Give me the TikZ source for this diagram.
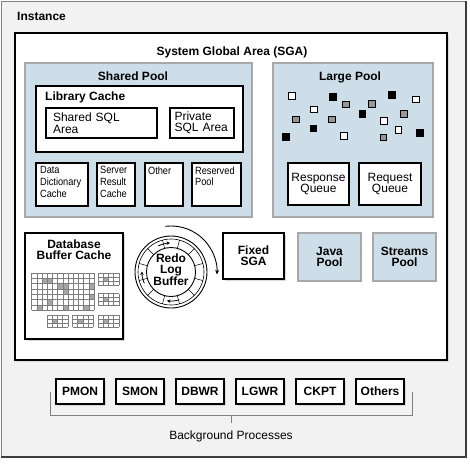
\documentclass[tikz,border=0pt]{standalone}
\usepackage{fontspec}
\setmainfont{Liberation Sans}
\newfontfamily\narrowfont[FakeStretch=0.88]{Liberation Sans}
\usetikzlibrary{positioning,shadows,arrows.meta}

\definecolor{instfill}{RGB}{242,242,242}
\definecolor{instline}{RGB}{60,60,60}
\definecolor{poolblue}{RGB}{206,222,232}
\definecolor{poolgray}{RGB}{168,168,168}
\definecolor{gridgray}{RGB}{125,125,125}
\definecolor{cellgray}{RGB}{165,165,165}
\definecolor{dotgray}{RGB}{150,150,150}

% one grid block of the buffer cache: x0, y0, cols, rows, cell width, cell height
\newcommand\cachegrid[6]{%
  \foreach \i in {0,...,#3} \draw[gridline] ({#1+\i*#5},#2) -- ++(0,{#4*#6});
  \foreach \j in {0,...,#4} \draw[gridline] (#1,{#2+\j*#6}) -- ++({#3*#5},0);
}

\tikzset{
  box/.style={draw=black, line width=1.3pt, fill=white, inner sep=0pt,
    drop shadow={shadow xshift=2pt, shadow yshift=-2pt, fill=black!15, opacity=1}},
  pool/.style={draw=poolgray, line width=2.4pt, fill=poolblue, inner sep=0pt},
  small/.style={draw=black, line width=1.2pt, fill=white, inner sep=0pt},
  bold/.style={font=\bfseries\fontsize{12}{11}\selectfont, align=center, inner sep=0pt},
  plain/.style={font=\fontsize{12}{11.5}\selectfont, inner sep=0pt},
  narrow/.style={font=\narrowfont\fontsize{10.5}{11.7}\selectfont, align=left, inner sep=0pt},
  gridline/.style={gridgray, line width=0.5pt},
  dot/.style={draw=black, line width=0.6pt},
  flow/.style={line width=0.8pt, -{Stealth[length=3.5pt,width=3.5pt]}},
}

\begin{document}
\begin{tikzpicture}[x=1pt,y=-1pt]
\useasboundingbox (0,0) rectangle (470,464);

% instance
\node[draw=gray, line width=0.8pt, fill=instfill, minimum width=465, minimum height=456, inner sep=0pt] (inst) at (233.5,229) {};
\draw[instline, line width=2pt] (inst.north east) -- (inst.south east) -- (inst.south west);
\node[bold, anchor=base west] (instlbl) at (17,20.7) {Instance};

% system global area
\node[box, minimum width=432, minimum height=327] (sga) at (231,196.5) {};
\node[bold, anchor=base] (sgalbl) at (232,55) {System Global Area (SGA)};

% shared pool
\node[pool, minimum width=227, minimum height=154] (shpool) at (138.5,140) {};
\node[bold, anchor=base] (shpoollbl) at (133,80) {Shared Pool};
\node[draw=black, line width=1.2pt, fill=white, minimum width=207, minimum height=66] (libc) at (139.5,119) {};
\node[bold, anchor=base west] (libclbl) at (45,100.7) {Library Cache};
\node[small, plain, minimum width=111, minimum height=30, text width=97, align=left] (sqlarea) at (101.5,123) {Shared SQL\\Area};
\node[small, plain, minimum width=64, minimum height=30, text width=55, align=left] (privsql) at (202,123) {Private\\SQL Area};

\begin{scope}[every node/.style={small, minimum height=43}]
  \node[minimum width=52] (ddc)   at (62,184.5)   {};
  \node[minimum width=38] (src)   at (116,184.5)  {};
  \node[minimum width=38] (other) at (164,184.5)  {};
  \node[minimum width=49] (rsv)   at (216.5,184.5){};
\end{scope}
\node[narrow, below right=4pt and 4.5pt of ddc.north west] (ddctxt)   {Data\\Dictionary\\Cache};
\node[narrow, below right=4pt and 3.5pt of src.north west] (srctxt)   {Server\\Result\\Cache};
\node[narrow, below right=4pt and 3.5pt of other.north west] (othertxt) {Other};
\node[narrow, below right=4pt and 3.5pt of rsv.north west] (rsvtxt)   {Reserved\\Pool};

% large pool
\node[pool, minimum width=160, minimum height=154] (lpool) at (353,140) {};
\node[bold, anchor=base] (lpoollbl) at (350,80) {Large Pool};
\foreach \x/\y/\c in {291.7/96/white, 332.7/96.7/black, 346/104.3/dotgray, 314/109.3/white,
    295.7/119.3/dotgray, 332/119.3/dotgray, 313.3/128.3/black, 285.7/136.7/black,
    344/136/white, 371.7/103.7/dotgray, 362.3/114/black, 391.7/94.7/black,
    415.7/99.3/white, 403.7/114/dotgray, 384/120.7/white, 398.3/130/white,
    383.3/137.3/dotgray, 420/132.7/black}
  \draw[dot, fill=\c] (\x-3.3,\y-3.3) rectangle ++(6.6,6.6);
\node[small, plain, align=center, minimum width=61, minimum height=42] (respq) at (318.5,184) {Response\\Queue};
\node[small, plain, align=center, minimum width=62, minimum height=42] (reqq) at (390,184) {Request\\Queue};

% database buffer cache
\node[box, minimum width=98, minimum height=106] (dbbc) at (74,286) {};
\node[bold, anchor=north] (dbbclbl) at (74,239.5) {Database\\Buffer Cache};
\foreach \c/\r in {2/1, 3/1, 5/2, 6/2, 6/3, 11/2, 11/4, 3/5, 1/6, 6/6, 10/6}
  \fill[cellgray] ({31.7+\c*5.2},{273+\r*5.3}) rectangle ++(5.2,5.3);
\foreach \x/\y in {98/273, 98/293.5, 47/315, 72.5/315, 98/315}
  \fill[cellgray] ({\x+5.2},{\y+4}) rectangle ++(5.2,4);
\cachegrid{31.7}{273}{12}{7}{5.2}{5.3}
\cachegrid{98}{273}{4}{3}{5.2}{4}
\cachegrid{98}{293.5}{4}{3}{5.2}{4}
\cachegrid{47}{315}{4}{3}{5.2}{4}
\cachegrid{72.5}{315}{4}{3}{5.2}{4}
\cachegrid{98}{315}{4}{3}{5.2}{4}

% redo log buffer
\node[draw=black, line width=0.9pt, circle, minimum size=72, inner sep=0pt] (redo) at (171,272) {};
\node[bold] (redolbl) at (171,269.5) {Redo\\Log\\Buffer};
\begin{scope}[shift={(redo.center)}]
  \draw[line width=0.6pt] (0,0) circle[radius=33];
  \draw[line width=0.9pt] (0,0) circle[radius=24.5];
  \foreach \a in {15,45,...,345} \draw[line width=0.5pt] (\a:24.5) -- (\a:33);
  \draw[flow] (-116:29) arc[start angle=-116, end angle=-92, radius=29];
  \draw[flow] (157:29) arc[start angle=157, end angle=181, radius=29];
  \draw[flow] (74:29) arc[start angle=74, end angle=98, radius=29];
  \draw[line width=0.9pt, -{Stealth[length=4.5pt,width=4pt]}] (-97:46) arc[start angle=-97, end angle=3, radius=46];
\end{scope}

% fixed sga, java pool, streams pool
\node[box, bold, minimum width=61, minimum height=46] (fixed) at (253.5,256) {Fixed\\SGA};
\node[pool, bold, minimum width=63, minimum height=48] (java) at (329.5,257) {Java\\Pool};
\node[pool, bold, minimum width=63, minimum height=48] (streams) at (404.5,257) {Streams\\Pool};

% background processes
\foreach \n/\t [count=\i from 0] in {pmon/PMON, smon/SMON, dbwr/DBWR, lgwr/LGWR, ckpt/CKPT, others/Others}
  \node[box, bold, minimum width=48, minimum height=25] (\n) at ({80+60*\i},391.5) {\t};

\coordinate (brl) at (50,392);
\coordinate (brr) at (412,392);
\coordinate (brm) at (231,415);
\draw[gray, line width=0.9pt] (brl) |- (brr |- brm) -- (brr);
\node[plain, anchor=base] (bgp) at (231,439) {Background Processes};
\draw[gray, line width=0.9pt] (brm) -- ++(0,8);

\end{tikzpicture}
\end{document}
